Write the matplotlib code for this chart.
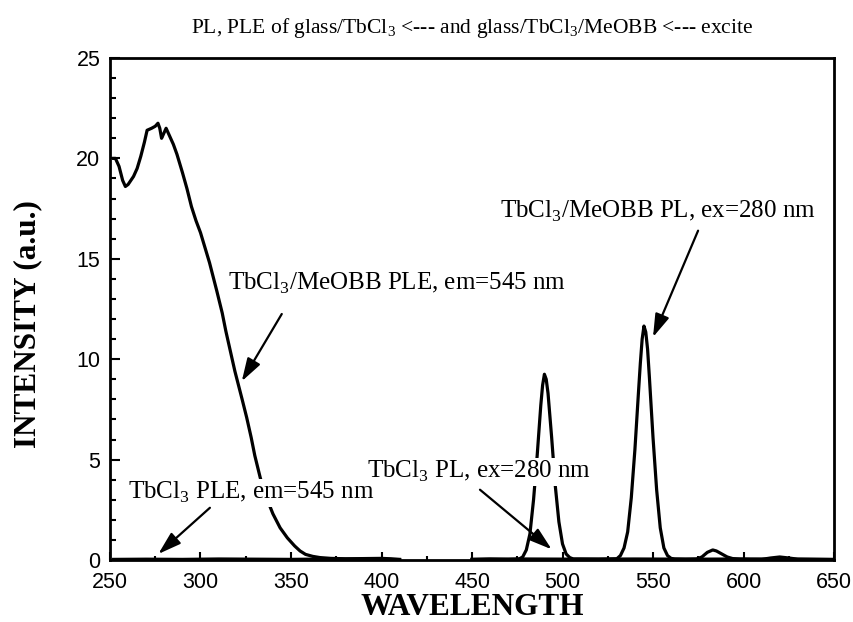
import matplotlib
matplotlib.use("Agg")
import matplotlib.pyplot as plt
from matplotlib.ticker import MultipleLocator

plt.rcParams['mathtext.fontset'] = 'custom'
plt.rcParams['mathtext.rm'] = 'Liberation Serif'

# glass/TbCl3/MeOBB excitation spectrum (em = 545 nm)
ple_meobb_wl = [252, 253, 255, 257, 258.5, 260, 263, 265, 267, 269, 270.5, 273, 275,
                276.5, 277.5, 278.5, 279.5, 281, 282.5, 285, 287, 290, 292.5, 295,
                297.5, 300, 303, 305, 307, 309, 312, 314, 316.5, 319, 321, 323, 325.5,
                328, 330, 333, 336, 340, 344, 348, 352, 355, 358, 362, 366, 372, 380,
                390, 400, 405, 410]
ple_meobb_int = [20.0, 20.0, 19.6, 18.9, 18.6, 18.7, 19.1, 19.5, 20.1, 20.8, 21.4, 21.5,
                 21.6, 21.75, 21.5, 21.0, 21.2, 21.5, 21.2, 20.7, 20.2, 19.3, 18.5, 17.6,
                 16.9, 16.3, 15.4, 14.8, 14.1, 13.4, 12.3, 11.4, 10.4, 9.4, 8.7, 8.0, 7.1,
                 6.1, 5.2, 4.1, 3.2, 2.3, 1.6, 1.1, 0.7, 0.45, 0.28, 0.18, 0.12, 0.08,
                 0.06, 0.07, 0.08, 0.06, 0.02]

# glass/TbCl3 excitation spectrum (em = 545 nm)
ple_tb_wl = [252, 270, 290, 310, 330, 350, 370, 390, 410]
ple_tb_int = [0.03, 0.04, 0.03, 0.05, 0.04, 0.03, 0.05, 0.04, 0.03]

# glass/TbCl3/MeOBB emission spectrum (ex = 280 nm)
pl_meobb_wl = [450, 460, 470, 474, 476, 478, 480, 482, 484, 486, 488, 489, 490, 491, 492,
               494, 496, 498, 500, 502, 504, 506, 510, 520, 526, 530, 532, 534, 536, 538,
               540, 542, 543, 544, 545, 546, 547, 548, 550, 552, 554, 556, 558, 560, 562,
               568, 574, 577, 580, 583, 585, 588, 591, 594, 598, 604, 610, 615, 620, 625,
               630, 640, 650]
pl_meobb_int = [0.03, 0.05, 0.03, 0.04, 0.05, 0.15, 0.5, 1.3, 3.0, 5.2, 7.7, 8.7, 9.25,
                9.0, 8.3, 6.1, 3.7, 1.9, 0.8, 0.3, 0.12, 0.05, 0.05, 0.04, 0.05, 0.06, 0.22,
                0.6, 1.4, 3.1, 5.5, 8.4, 9.8, 11.0, 11.65, 11.35, 10.5, 9.1, 6.1, 3.5, 1.6,
                0.6, 0.22, 0.08, 0.05, 0.04, 0.05, 0.15, 0.38, 0.5, 0.45, 0.3, 0.15, 0.07,
                0.04, 0.03, 0.03, 0.1, 0.15, 0.1, 0.04, 0.03, 0.02]

# glass/TbCl3 emission spectrum (ex = 280 nm)
pl_tb_wl = [450, 480, 510, 540, 570, 600, 630, 650]
pl_tb_int = [0.03, 0.05, 0.04, 0.05, 0.04, 0.05, 0.04, 0.03]

x_ticks = [250, 300, 350, 400, 450, 500, 550, 600, 650]
y_ticks = [0, 5, 10, 15, 20, 25]

fig = plt.figure(figsize=(8.54, 6.22), dpi=100)
ax = fig.add_axes([0.1288, 0.0997, 0.8478, 0.8071])

lw = 2.3
ax.plot(ple_meobb_wl, ple_meobb_int, color='black', lw=lw, zorder=2)
ax.plot(ple_tb_wl, ple_tb_int, color='black', lw=lw, zorder=2)
ax.plot(pl_meobb_wl, pl_meobb_int, color='black', lw=lw, zorder=2)
ax.plot(pl_tb_wl, pl_tb_int, color='black', lw=lw, zorder=2)

ax.set_xlim(250, 650)
ax.set_ylim(0, 25)
ax.set_xticks(x_ticks)
ax.set_yticks(y_ticks)
ax.xaxis.set_minor_locator(MultipleLocator(25))
ax.yaxis.set_minor_locator(MultipleLocator(1))
ax.tick_params(axis='both', which='both', direction='in', top=False, right=False,
               width=1.5, labelsize=15.5)
ax.tick_params(axis='x', which='major', length=6, pad=9)
ax.tick_params(axis='x', which='minor', length=3)
ax.tick_params(axis='y', which='major', length=7, pad=7)
ax.tick_params(axis='y', which='minor', length=4)
for lab in ax.get_xticklabels() + ax.get_yticklabels():
    lab.set_fontfamily('Liberation Sans')
for sp in ax.spines.values():
    sp.set_linewidth(2.0)

ax.set_xlabel('WAVELENGTH', fontfamily='Liberation Serif', fontweight='bold',
              fontsize=22.5, labelpad=0)
ax.set_ylabel('INTENSITY (a.u.)', fontfamily='Liberation Serif', fontweight='bold',
              fontsize=22.5)
ax.yaxis.set_label_coords(-0.094, 0.47)
ax.set_title(r'PL, PLE of glass/TbCl$_3$ <--- and glass/TbCl$_3$/MeOBB <--- excite',
             fontfamily='Liberation Serif', fontsize=15.5, pad=18)

box = dict(facecolor='white', edgecolor='none', pad=1.0)
arrow = dict(arrowstyle='-|>,head_length=0.7,head_width=0.22', color='black', lw=1.6,
             mutation_scale=20, shrinkA=0, shrinkB=0)
label_kw = dict(fontfamily='Liberation Serif', fontsize=18, va='center',
                ha='left', bbox=box, zorder=3)

ax.text(315.2, 13.75, r'TbCl$_3$/MeOBB PLE, em=545 nm', **label_kw)
ax.annotate('', xy=(322.8, 8.9), xytext=(344.9, 12.25), arrowprops=arrow, zorder=4)

ax.text(260, 3.35, r'TbCl$_3$ PLE, em=545 nm', **label_kw)
ax.annotate('', xy=(276.7, 0.3), xytext=(305.2, 2.6), arrowprops=arrow, zorder=4)

ax.text(392, 4.4, r'TbCl$_3$ PL, ex=280 nm', **label_kw)
ax.annotate('', xy=(494, 0.53), xytext=(454.4, 3.5), arrowprops=arrow, zorder=4)

ax.text(465.5, 17.35, r'TbCl$_3$/MeOBB PL, ex=280 nm', **label_kw)
ax.annotate('', xy=(550, 11.1), xytext=(574.9, 16.4), arrowprops=arrow, zorder=4)

fig.savefig('out.png', dpi=100)
